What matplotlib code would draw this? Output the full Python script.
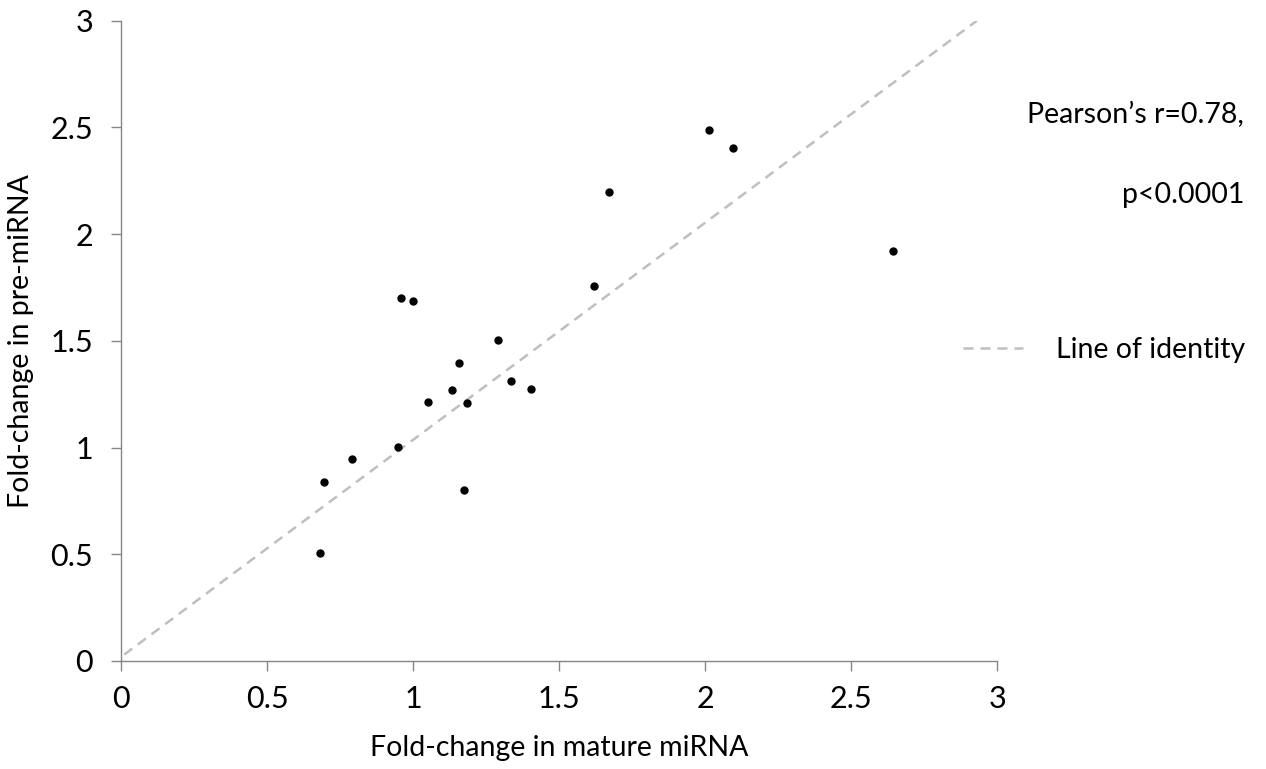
import numpy as np
import matplotlib.pyplot as plt

# fold-change per miRNA: mature (x) vs precursor (y)
mature_fc = [0.680, 0.693, 0.790, 0.947, 0.957, 1.000, 1.049, 1.131, 1.158, 1.175,
             1.185, 1.290, 1.333, 1.404, 1.618, 1.671, 2.014, 2.096, 2.644]
pre_fc = [0.507, 0.839, 0.947, 1.001, 1.701, 1.688, 1.215, 1.270, 1.396, 0.803,
          1.210, 1.504, 1.312, 1.276, 1.756, 2.199, 2.487, 2.402, 1.923]

ident_x = [0.01, 2.93]
ident_y = [0.03, 3.0]

xticks = [0, 0.5, 1, 1.5, 2, 2.5, 3]
yticks = [0, 0.5, 1, 1.5, 2, 2.5, 3]

plt.rcParams['font.family'] = ['Lato', 'DejaVu Sans']
W, H = 1266, 769
fig = plt.figure(figsize=(W / 100, H / 100), dpi=100)
ax = fig.add_axes([121.3 / W, 1 - 661 / H, (997.3 - 121.3) / W, (661 - 20.7) / H])

ax.plot(ident_x, ident_y, color='#bfbfbf', lw=1.8, dashes=(4, 2.8), label='Line of identity')
ax.plot(mature_fc, pre_fc, 'o', color='black', markersize=5, ls='none')

ax.set_xlim(0, 3)
ax.set_ylim(0, 3)
ax.set_xticks(xticks)
ax.set_yticks(yticks)
ax.set_xticklabels([f'{t:g}' for t in xticks])
ax.set_yticklabels([f'{t:g}' for t in yticks])

for s in ['top', 'right']:
    ax.spines[s].set_visible(False)
for s in ['left', 'bottom']:
    ax.spines[s].set_color('#868686')
    ax.spines[s].set_linewidth(1.0)
ax.tick_params(direction='out', length=7.2, width=1.0, color='#868686',
               labelsize=22, pad=10, labelcolor='black')
ax.tick_params(axis='y', pad=13)
ax.set_xlabel('Fold-change in mature miRNA', fontsize=20.5, labelpad=16)
ax.set_ylabel('Fold-change in pre-miRNA', fontsize=20.5, labelpad=12)

fig.text(1244 / W, 1 - 115 / H, 'Pearson\u2019s r=0.78,', ha='right', va='center', fontsize=20.5)
fig.text(1244 / W, 1 - 195 / H, 'p<0.0001', ha='right', va='center', fontsize=20.5)

ax.legend(loc='center right', bbox_to_anchor=(1259 / W, 1 - 350 / H),
          bbox_transform=fig.transFigure, frameon=False, fontsize=20.5,
          handlelength=2.1, handletextpad=1.15, borderpad=0)

fig.savefig('out.png', dpi=100)
